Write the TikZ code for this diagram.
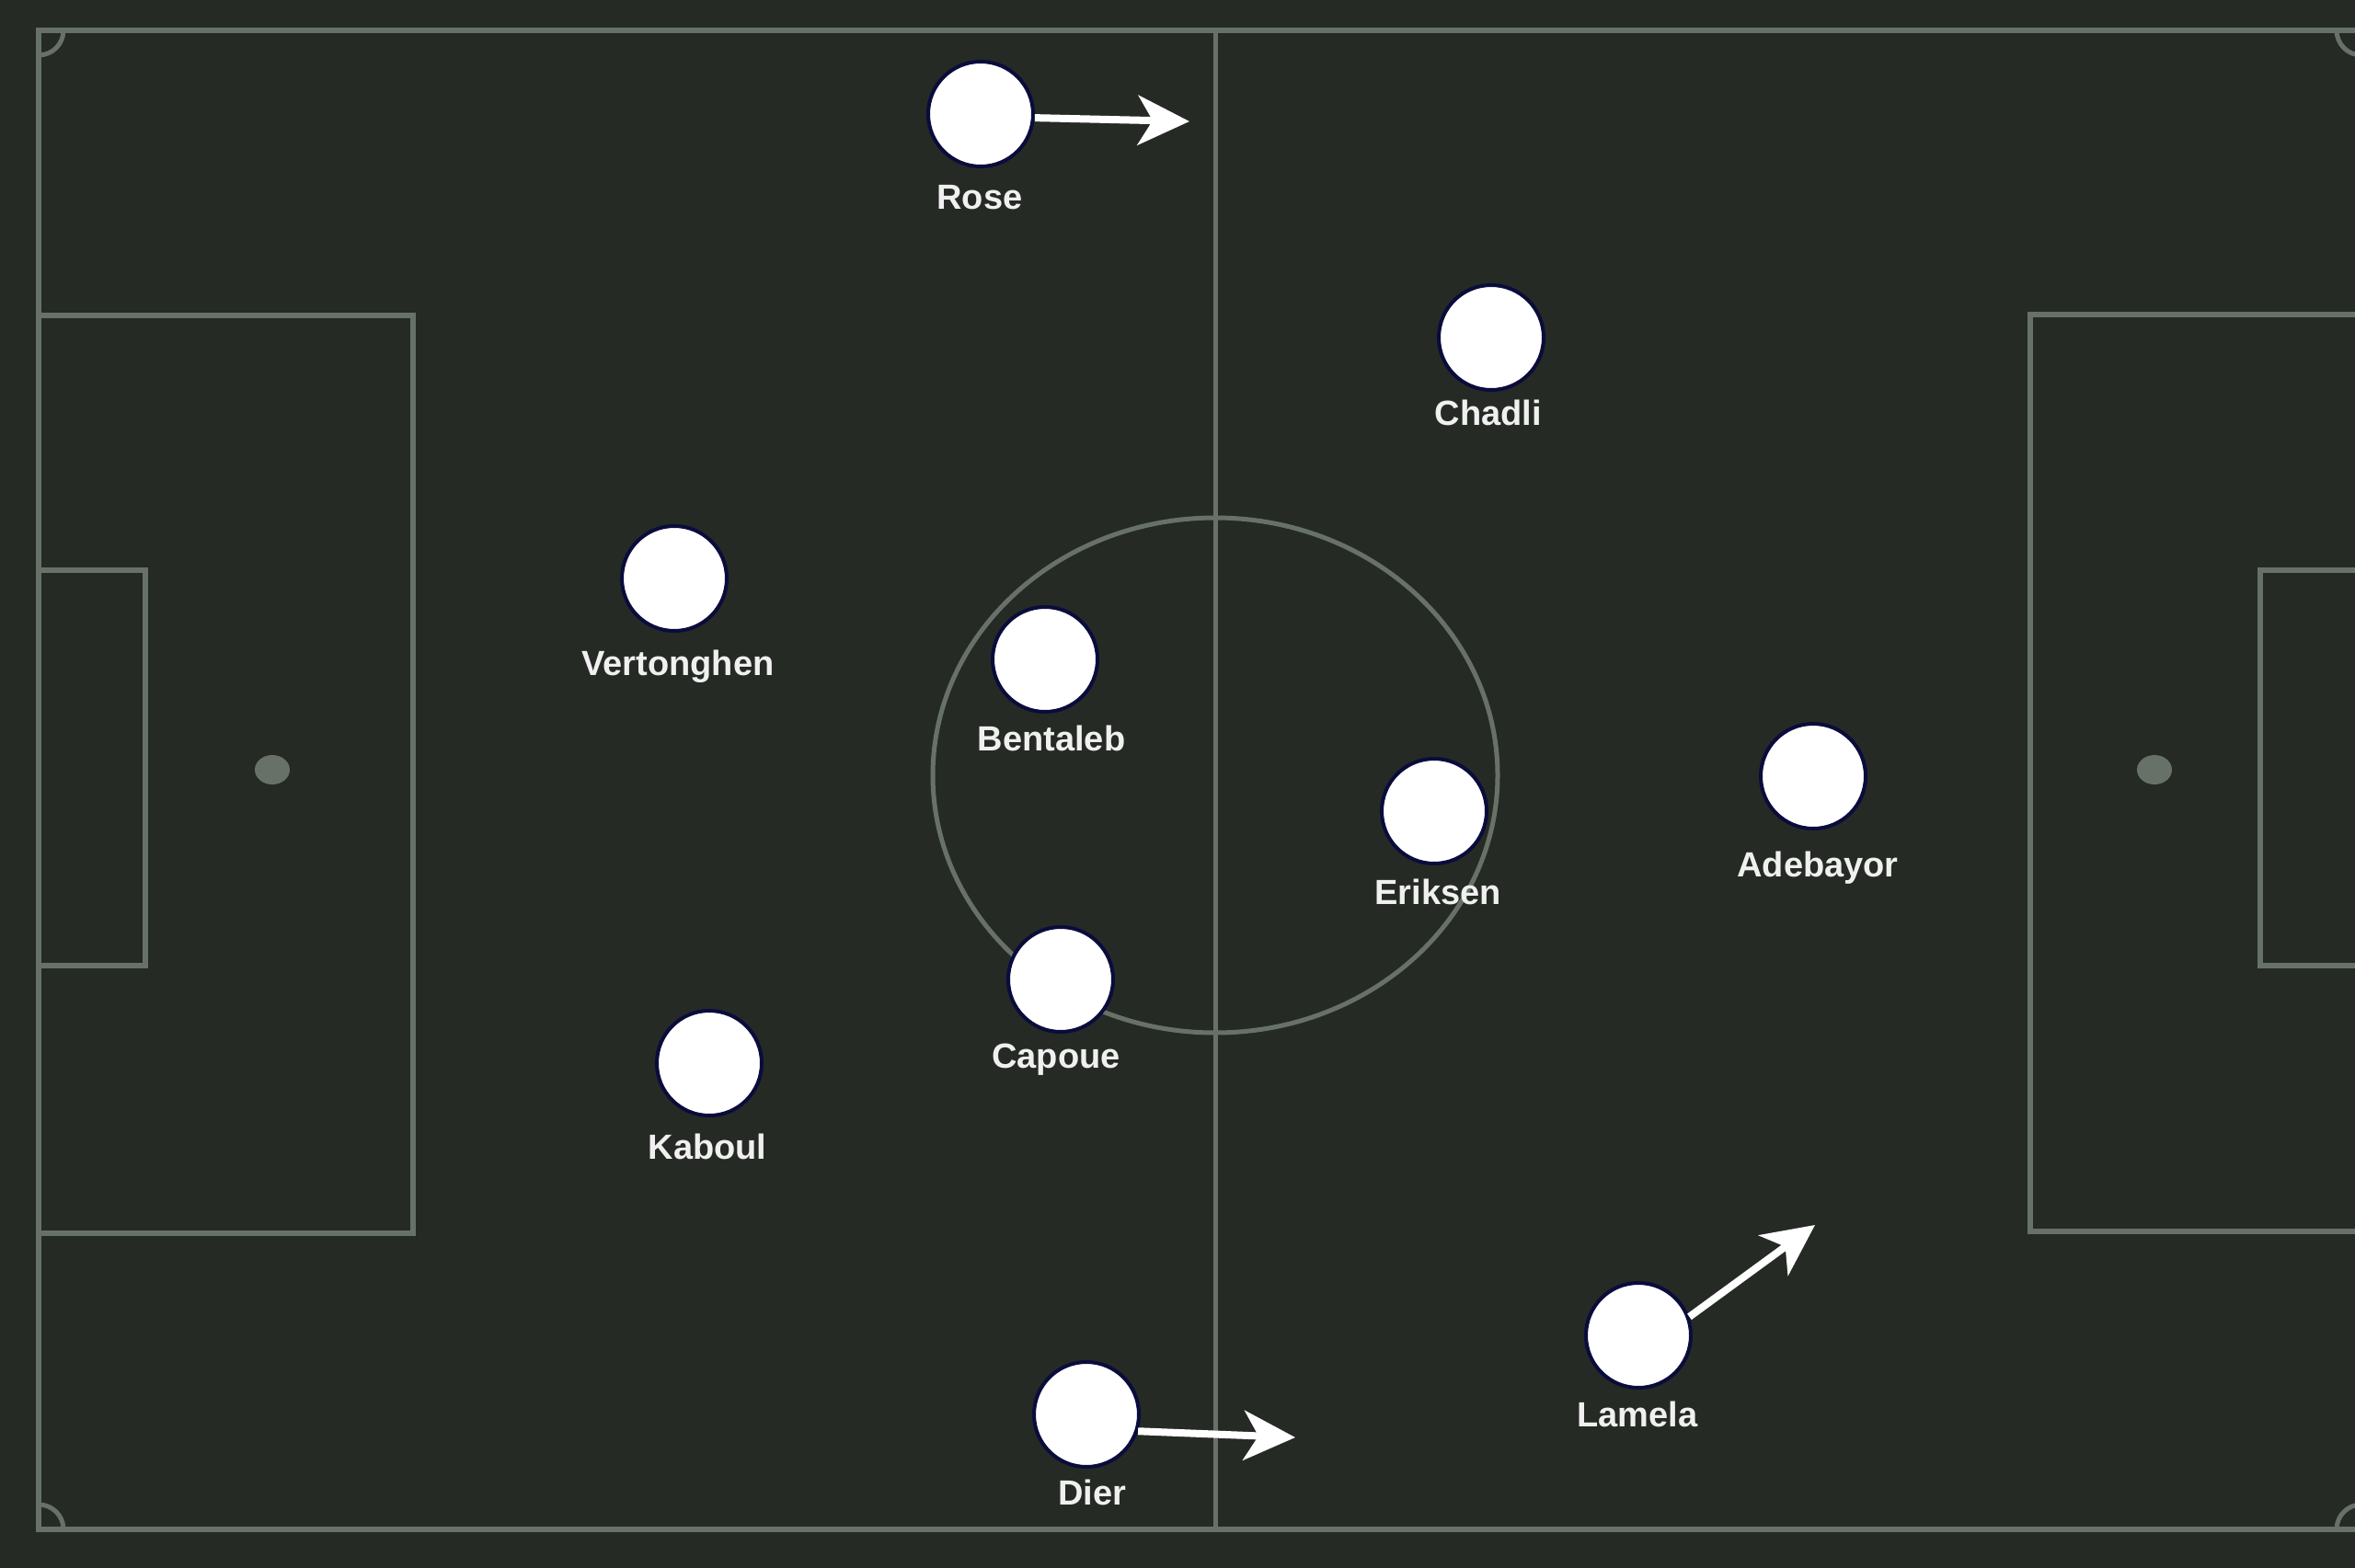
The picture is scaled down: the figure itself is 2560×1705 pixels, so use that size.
\documentclass[tikz,border=0pt]{standalone}
\usepackage{fontspec}
\setmainfont{Liberation Sans}
\usetikzlibrary{arrows.meta}
\definecolor{pitchbg}{RGB}{37,42,36}
\definecolor{pitchline}{RGB}{104,113,104}
\definecolor{rim}{RGB}{10,12,60}
\definecolor{labelwhite}{RGB}{240,240,240}
\tikzset{
  pline/.style={draw=pitchline, line width=6pt},
  thinline/.style={draw=pitchline, line width=5pt},
  player/.style={circle, minimum size=114pt, inner sep=0pt, fill=white, draw=rim, line width=4pt},
  plabel/.style={anchor=base, text=labelwhite, font=\bfseries\fontsize{38pt}{40pt}\selectfont, inner sep=0pt},
  runarrow/.style={draw=white, line width=8pt, -{Stealth[length=56pt, width=54pt, inset=16pt]}}
}
\begin{document}
\begin{tikzpicture}[x=1pt, y=-1pt]
\useasboundingbox (0,0) rectangle (2560,1705);
\fill[pitchbg] (0,0) rectangle (2560,1705);
% pitch markings
\draw[pline] (42,33) rectangle (2567,1663);
\draw[thinline] (1321,33) -- (1321,1663);
\draw[thinline] (1321,843) ellipse [x radius=307, y radius=280];
\draw[pline] (42,343) rectangle (449,1341);
\draw[pline] (2207,342) rectangle (2567,1339);
\draw[pline] (42,620) rectangle (158,1050);
\draw[pline] (2457,620) rectangle (2567,1050);
\fill[pitchline] (296,837) ellipse [x radius=19, y radius=16];
\fill[pitchline] (2342,837) ellipse [x radius=19, y radius=16];
% corner arcs
\draw[thinline] (69,33) arc[start angle=0, end angle=90, radius=27];
\draw[thinline] (42,1636) arc[start angle=-90, end angle=0, radius=27];
\draw[thinline] (2540,33) arc[start angle=180, end angle=90, radius=27];
\draw[thinline] (2567,1636) arc[start angle=270, end angle=180, radius=27];
% players
\node[player] (rose) at (1066,124) {};
\node[player] (chadli) at (1621,367) {};
\node[player] (vertonghen) at (733,629) {};
\node[player] (bentaleb) at (1136,717) {};
\node[player] (eriksen) at (1559,882) {};
\node[player] (adebayor) at (1971,844) {};
\node[player] (capoue) at (1153,1065) {};
\node[player] (kaboul) at (771,1156) {};
\node[player] (lamela) at (1781,1452) {};
\node[player] (dier) at (1181,1538) {};
% labels
\node[plabel] (roseL) at (1065,227) {Rose};
\node[plabel] (chadliL) at (1618,462) {Chadli};
\node[plabel] (vertonghenL) at (737,734) {Vertonghen};
\node[plabel] (bentalebL) at (1143,816) {Bentaleb};
\node[plabel] (eriksenL) at (1563,983) {Eriksen};
\node[plabel] (adebayorL) at (1976,953) {Adebayor};
\node[plabel] (capoueL) at (1148,1161) {Capoue};
\node[plabel] (kaboulL) at (769,1260) {Kaboul};
\node[plabel] (lamelaL) at (1780,1551) {Lamela};
\node[plabel] (dierL) at (1187,1636) {Dier};
% run arrows
\coordinate (roseT) at (1293,132);
\coordinate (dierT) at (1408,1563);
\coordinate (lamelaT) at (1973,1332);
\draw[runarrow] (rose.-4) -- (roseT);
\draw[runarrow] (dier.-18) -- (dierT);
\draw[runarrow] (lamela.20) -- (lamelaT);
\end{tikzpicture}
\end{document}
